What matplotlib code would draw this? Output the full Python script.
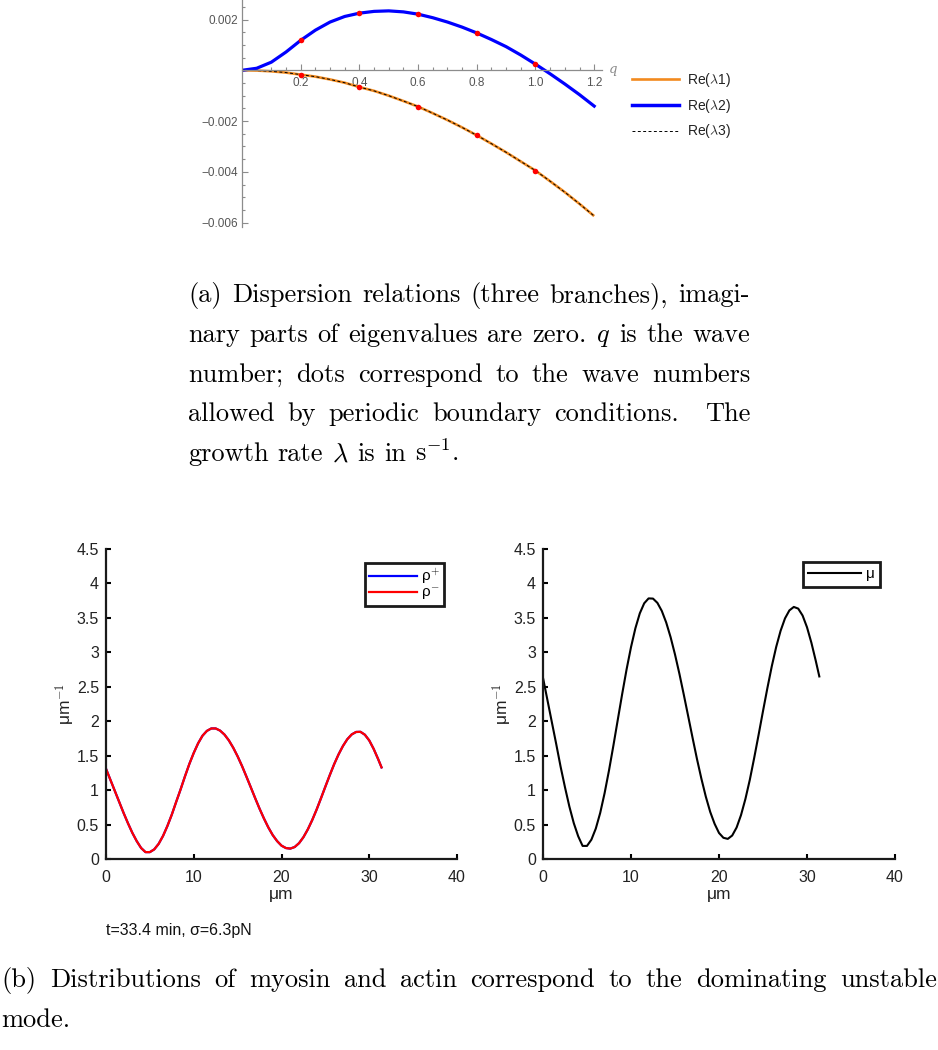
import numpy as np
import matplotlib
matplotlib.use('Agg')
import matplotlib.pyplot as plt
from matplotlib.lines import Line2D

plt.rcParams['mathtext.fontset'] = 'cm'
plt.rcParams['font.family'] = ['Liberation Sans', 'DejaVu Sans']

# --- (a) dispersion relations ---
q = [0, 0.05, 0.1, 0.15, 0.2, 0.25, 0.3, 0.35, 0.4, 0.45, 0.5, 0.55, 0.6,
     0.65, 0.7, 0.75, 0.8, 0.85, 0.9, 0.95, 1.0, 1.05, 1.1, 1.15, 1.2]
re_l2 = [0, 0.00008, 0.00032, 0.00072, 0.00118, 0.00158, 0.00190, 0.00212,
         0.00225, 0.00232, 0.00234, 0.00230, 0.00221, 0.00207, 0.00190,
         0.00170, 0.00147, 0.00121, 0.00093, 0.00060, 0.00024, -0.00014,
         -0.00054, -0.00096, -0.00141]
re_l1 = [0, -0.00001, -0.00004, -0.00009, -0.00017, -0.00025, -0.00036,
         -0.00049, -0.00066, -0.00081, -0.00100, -0.00121, -0.00143,
         -0.00169, -0.00196, -0.00225, -0.00256, -0.00289, -0.00323,
         -0.00359, -0.00395, -0.00437, -0.00480, -0.00526, -0.00574]
re_l3 = re_l1
q_allowed = [0.2, 0.4, 0.6, 0.8, 1.0]
dots_l2 = [0.00118, 0.00225, 0.00221, 0.00147, 0.00024]
dots_l1 = [-0.00017, -0.00066, -0.00143, -0.00256, -0.00395]

# --- (b) dominating unstable mode profiles (every 0.5 um) ---
x_um = [0, 0.5, 1, 1.5, 2, 2.5, 3, 3.5, 4, 4.5, 5, 5.5, 6, 6.5, 7, 7.5, 8,
        8.5, 9, 9.5, 10, 10.5, 11, 11.5, 12, 12.5, 13, 13.5, 14, 14.5, 15,
        15.5, 16, 16.5, 17, 17.5, 18, 18.5, 19, 19.5, 20, 20.5, 21, 21.5,
        22, 22.5, 23, 23.5, 24, 24.5, 25, 25.5, 26, 26.5, 27, 27.5, 28,
        28.5, 29, 29.5, 30, 30.5, 31, 31.4]
rho_plus = [1.31, 1.15, 0.99, 0.83, 0.67, 0.52, 0.38, 0.26, 0.16, 0.10,
            0.10, 0.14, 0.22, 0.335, 0.48, 0.645, 0.83, 1.01, 1.20, 1.38,
            1.54, 1.68, 1.79, 1.86, 1.895, 1.895, 1.864, 1.806, 1.722,
            1.615, 1.49, 1.35, 1.197, 1.041, 0.883, 0.73, 0.588, 0.458,
            0.347, 0.26, 0.194, 0.159, 0.151, 0.174, 0.23, 0.317, 0.43,
            0.565, 0.717, 0.882, 1.051, 1.217, 1.376, 1.518, 1.64, 1.739,
            1.808, 1.844, 1.846, 1.804, 1.721, 1.599, 1.454, 1.33]
rho_minus = rho_plus
mu = [2.63, 2.31, 1.99, 1.67, 1.34, 1.04, 0.76, 0.52, 0.33, 0.19, 0.19,
      0.281, 0.442, 0.669, 0.956, 1.286, 1.647, 2.023, 2.397, 2.754, 3.075,
      3.35, 3.566, 3.712, 3.783, 3.78, 3.718, 3.601, 3.433, 3.22, 2.969,
      2.689, 2.385, 2.072, 1.757, 1.45, 1.165, 0.906, 0.684, 0.511, 0.378,
      0.308, 0.292, 0.341, 0.457, 0.637, 0.871, 1.149, 1.468, 1.803, 2.147,
      2.482, 2.799, 3.079, 3.313, 3.493, 3.609, 3.659, 3.635, 3.534, 3.364,
      3.139, 2.875, 2.65]

W, H = 938, 1050
fig = plt.figure(figsize=(W / 100, H / 100), dpi=100)


def box(x0, y0, x1, y1):
    return [x0 / W, 1 - y1 / H, (x1 - x0) / W, (y1 - y0) / H]


# ---------------- top: Mathematica style ----------------
grey = '#8c8c8c'
orange = '#F28A1E'
ax = fig.add_axes(box(242, 0, 602, 227))
ax.plot(q, re_l1, color=orange, lw=1.9, solid_capstyle='butt')
ax.plot(q, re_l2, color='#0000FF', lw=2.3)
ax.plot(q, re_l3, color='black', lw=0.7, ls=(0, (3, 2.5)))
ax.plot(q_allowed, dots_l2, 'o', color='red', ms=4, mec='none', zorder=5)
ax.plot(q_allowed, dots_l1, 'o', color='red', ms=4, mec='none', zorder=5)
ax.set_xlim(0, 1.2266)
ax.set_ylim(-0.00617, 0.002768)
for s in ['top', 'right']:
    ax.spines[s].set_visible(False)
ax.spines['bottom'].set_position(('data', 0))
for s in ['left', 'bottom']:
    ax.spines[s].set_color(grey)
    ax.spines[s].set_linewidth(0.9)
ax.set_xticks([0.2, 0.4, 0.6, 0.8, 1.0, 1.2])
ax.set_xticklabels(['0.2', '0.4', '0.6', '0.8', '1.0', '1.2'])
ax.set_xticks(np.arange(0.05, 1.21, 0.05), minor=True)
ax.set_yticks([-0.006, -0.004, -0.002, 0.002])
ax.set_yticklabels(['\u22120.006', '\u22120.004', '\u22120.002', '0.002'])
ax.set_yticks(np.arange(-0.006, 0.0026, 0.0005), minor=True)
ax.tick_params(which='both', direction='in', color=grey, width=0.8,
               labelsize=8.5, labelcolor='#555555', pad=3)
ax.tick_params(axis='x', pad=5)
ax.tick_params(which='major', length=4)
ax.tick_params(which='minor', length=2.2)
ax.patch.set_alpha(0)
fig.text(609 / W, 1 - 70 / H, 'q', fontsize=9.5, color=grey,
         style='italic', va='center', family='DejaVu Serif')

handles = [Line2D([], [], color=orange, lw=1.9),
           Line2D([], [], color='#0000FF', lw=2.5),
           Line2D([], [], color='black', lw=0.7, ls=(0, (3, 2.5)))]
fig.legend(handles, [r'Re($\lambda$1)', r'Re($\lambda$2)', r'Re($\lambda$3)'],
           loc='upper left', bbox_to_anchor=(621 / W, 1 - 60 / H),
           frameon=False, fontsize=10, handlelength=3.4, handletextpad=0.55,
           labelspacing=0.55, labelcolor='#222222', borderpad=0.3)

# ---------------- captions (justified) ----------------
cap_kw = dict(family='cmr10', fontsize=19, color='black', va='baseline')
renderer = fig.canvas.get_renderer()


def caption_line(text, x0, x1, ybase, justify=True):
    words = text.split(' ')
    items = [fig.text(0, 1 - ybase / H, w, **cap_kw) for w in words]
    widths = [t.get_window_extent(renderer).width for t in items]
    if justify and len(words) > 1:
        gap = (x1 - x0 - sum(widths)) / (len(words) - 1)
    else:
        gap = 9.0
    x = x0
    for t, w in zip(items, widths):
        t.set_x(x / W)
        x += w + gap


cap_a = [
    ('(a) Dispersion relations (three branches), imagi-', True),
    (r'nary parts of eigenvalues are zero. $q$ is the wave', True),
    ('number; dots correspond to the wave numbers', True),
    ('allowed by periodic boundary conditions.  The', True),
    (r'growth rate $\lambda$ is in s$^{-1}$.', False),
]
for i, (line, just) in enumerate(cap_a):
    caption_line(line, 188, 750, 302 + 39.8 * i, just)

caption_line('(b) Distributions of myosin and actin correspond to the '
             'dominating unstable', 1, 937, 987, True)
caption_line('mode.', 1, 937, 1027, False)


# ---------------- bottom: MATLAB style ----------------
def matlab_axes(rect):
    a = fig.add_axes(rect)
    for s in ['top', 'right']:
        a.spines[s].set_visible(False)
    for s in ['left', 'bottom']:
        a.spines[s].set_linewidth(1.6)
        a.spines[s].set_color('#1a1a1a')
    a.set_xlim(0, 40)
    a.set_ylim(0, 4.5)
    a.set_xticks([0, 10, 20, 30, 40])
    yt = np.arange(0, 4.51, 0.5)
    a.set_yticks(yt)
    a.set_yticklabels([f'{v:g}' for v in yt])
    a.tick_params(direction='in', length=3.5, width=1.5, labelsize=11.5,
                  labelcolor='#222222', pad=5)
    a.tick_params(axis='x', pad=8)
    a.set_xlabel('\u03bcm', fontsize=12.5, labelpad=1, color='#222222')
    a.set_ylabel('\u03bcm$^{-1}$', fontsize=12.5, labelpad=0,
                 color='#222222')
    return a


axl = matlab_axes(box(106, 549, 457, 859))
axl.plot(x_um, rho_plus, color='#0000FF', lw=1.6, label='\u03c1$^{+}$')
axl.plot(x_um, rho_minus, color='#FF0000', lw=1.6, label='\u03c1$^{-}$')
leg = axl.legend(loc='upper right', bbox_to_anchor=(444 / W, 1 - 563 / H),
                 bbox_transform=fig.transFigure, fontsize=11, fancybox=False,
                 edgecolor='#1a1a1a', framealpha=1, handlelength=3.1,
                 handletextpad=0.3, borderpad=0.25, labelspacing=0.0,
                 borderaxespad=0)
leg.get_frame().set_linewidth(2.0)
fig.text(106 / W, 1 - 931 / H, 't=33.4 min, \u03c3=6.3pN', fontsize=11.5,
         va='center', color='#111111')

axr = matlab_axes(box(543, 549, 895, 859))
axr.plot(x_um, mu, color='black', lw=1.5, label='\u03bc')
leg = axr.legend(loc='upper right', bbox_to_anchor=(880 / W, 1 - 562 / H),
                 bbox_transform=fig.transFigure, fontsize=11, fancybox=False,
                 edgecolor='#1a1a1a', framealpha=1, handlelength=3.5,
                 handletextpad=0.3, borderpad=0.35, borderaxespad=0)
leg.get_frame().set_linewidth(2.0)

fig.savefig('out.png', dpi=100)
